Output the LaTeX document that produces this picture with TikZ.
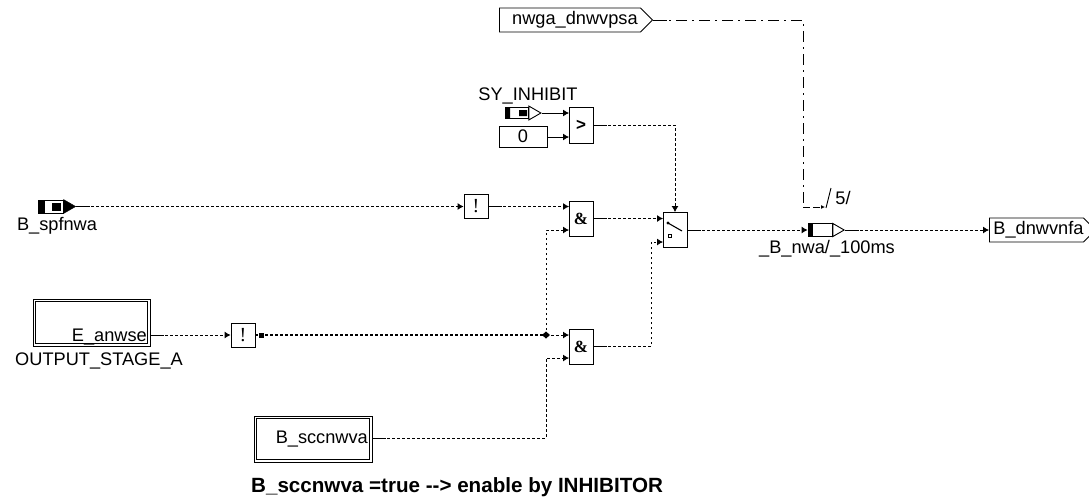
\documentclass[tikz,border=0pt]{standalone}
\usepackage{fontspec}
\setmainfont{Liberation Sans}
\newfontfamily\gatefont{Liberation Serif}
\usepackage{tikz}
\usetikzlibrary{arrows.meta,positioning,shapes.geometric,shapes.symbols,calc}

\begin{document}
\begin{tikzpicture}[
  x=1pt, y=-1pt,
  box/.style={draw, line width=0.9pt, inner sep=0pt, minimum width=24pt, font=\bfseries\gatefont\fontsize{17}{17}\selectfont},
  gate/.style={box, minimum height=35pt},
  notbox/.style={box, minimum height=24pt, font=\gatefont\fontsize{20}{20}\selectfont},
  module/.style={draw, line width=0.9pt, inner sep=0pt},
  port/.style={shape=signal, signal to=east, signal pointer angle=90, draw, line width=0.9pt, inner sep=0pt, font=\fontsize{18.2}{19}\selectfont},
  label/.style={font=\fontsize{18.2}{19}\selectfont, inner sep=0pt},
  wire/.style={-{Latex[length=6pt,width=7pt]}, line width=0.9pt, dash pattern=on 2.5pt off 2.5pt},
  stub/.style={line width=0.9pt},
  chain/.style={line width=0.9pt, dash pattern=on 11pt off 5pt on 2pt off 5pt}
]
\useasboundingbox (0,0) rectangle (1089,499);

% inputs
\node[port, minimum width=153pt, minimum height=24pt, anchor=west] (nwga) at (499,20) {\hspace*{10pt}nwga\_dnwvpsa};
\node[label] (syl) at (528,96) {SY\_INHIBIT};
\node[draw, line width=0.9pt, minimum width=48pt, minimum height=21pt, inner sep=0pt, font=\fontsize{18.2}{19}\selectfont] (zero) at (523,136.5) {0};
\node[module, minimum width=117pt, minimum height=47pt] (stage) at (91.5,322.5) {};
\node[module, minimum width=112pt, minimum height=42pt] (stagein) at (91.5,322.5) {};
\node[label, anchor=east] (anwse) at (147,337) {E\_anwse};
\node[label] (stagel) at (99,361) {OUTPUT\_STAGE\_A};
\node[module, minimum width=118pt, minimum height=46pt] (scc) at (313,439) {};
\node[module, minimum width=113pt, minimum height=41pt] (sccin) at (313,439) {};
\node[label, anchor=east] (sccl) at (368,439) {B\_sccnwva};
\node[label] (spfl) at (57,226) {B\_spfnwa};
\node[label] (nwal) at (827,249) {\_B\_nwa/\_100ms};
\node[label, font=\bfseries\fontsize{20.6}{21}\selectfont, anchor=west] (note) at (251,487) {B\_sccnwva =true -{}-> enable by INHIBITOR};

% small bool ports
\node[draw, fill=white, line width=0.9pt, minimum width=23pt, minimum height=11pt, inner sep=0pt] (syp) at (516.5,113) {};
\node[isosceles triangle, isosceles triangle apex angle=60, draw, line width=0.9pt, minimum height=12pt, minimum width=11pt, inner sep=0pt, anchor=west] (sypt) at (syp.east) {};
\fill (505,107.5) rectangle (510,118.5) (519,110) rectangle (527,116);

\node[draw, line width=0.9pt, minimum width=25pt, minimum height=13pt, inner sep=0pt] (spf) at (50.5,206.5) {};
\node[isosceles triangle, isosceles triangle apex angle=60, draw, fill=black, minimum height=12pt, minimum width=13pt, inner sep=0pt, anchor=west] (spft) at (spf.east) {};
\fill (38,200) rectangle (45,213);
\draw[line width=0.8pt, fill=black] (52,203) rectangle (60,210);

\node[draw, line width=0.9pt, minimum width=24pt, minimum height=13pt, inner sep=0pt] (nwa) at (820,230) {};
\node[isosceles triangle, isosceles triangle apex angle=60, draw, line width=0.9pt, minimum height=11pt, minimum width=13pt, inner sep=0pt, anchor=west] (nwat) at (nwa.east) {};
\fill (808,223.5) rectangle (813,236.5);

% blocks
\node[box, minimum height=36pt, font=\bfseries\fontsize{17}{17}\selectfont] (cmp) at (581,125) {>};
\node[notbox] (nota) at (476,206.5) {!};
\node[notbox] (notb) at (243,335) {!};
\node[gate] (anda) at (581,218.5) {\&};
\node[gate] (andb) at (581,346.5) {\&};
\node[gate] (sw) at (675,230) {};
\draw[line width=1.1pt] (668,223) -- (682,231);
\fill (668,223) circle (1.6pt);
\draw[line width=0.6pt] (668,234) rectangle (671,237);

% output
\node[port, minimum width=105pt, minimum height=24pt, anchor=west] (out) at (989,230) {\hspace*{4pt}B\_dnwvnfa};

% pins
\coordinate (cmpa) at (569,113);
\coordinate (cmpb) at (569,137);
\coordinate (anda1) at (569,206.5);
\coordinate (anda2) at (569,230);
\coordinate (andb1) at (569,335);
\coordinate (andb2) at (569,358);
\coordinate (swa) at (663,218.5);
\coordinate (swb) at (663,242);
\coordinate (join) at (546,335);
\coordinate (bus) at (803,207);
\coordinate (busend) at (825,207);

% connectors
\draw[stub, -{Latex[length=6pt,width=7pt]}] (sypt.apex) -- (cmpa);
\draw[stub, -{Latex[length=6pt,width=7pt]}] (zero.east |- cmpb) -- (cmpb);
\draw[wire] (spft.apex) -- (nota.west);
\draw[wire] (nota.east) -- (anda1);
\draw[wire] (stage.east |- notb) -- (notb.west);
\draw[wire, line width=1.3pt, -] (notb.east) -- (join);
\draw[wire] (join) -- (andb1);
\draw[wire] (join) |- (anda2);
\draw[wire] (scc.east |- 0,438) -| ($(andb2)+(-23,0)$) -- (andb2);
\draw[wire] (anda.east) -- (swa);
\draw[wire] (andb.east) -| ($(swb)+(-12,0)$) -- (swb);
\draw[wire] (cmp.east) -| (sw.north);
\draw[wire] (sw.east) -- (nwa.west);
\draw[wire] (nwat.apex) -- (out.west);
\draw[chain] (nwga.east) -| (bus);
\draw[-{Latex[length=4pt,width=4pt]}, line width=0.9pt, dash pattern=on 7pt off 3pt] (bus) -- (busend);

% solid starts of the lines
\foreach \s in {spft.apex,nota.east,anda.east,andb.east,cmp.east,sw.east,nwat.apex,nwga.east}
  \draw[stub] (\s) -- ++(14,0);
\draw[stub] (stage.east |- notb) -- ++(14,0);
\draw[stub] (scc.east |- 0,438) -- ++(14,0);
\fill (259,333) rectangle (264,338);
\fill (546,331.5) -- (550,335) -- (546,338.5) -- (542,335) -- cycle;

% bus width mark
\draw[line width=0.9pt] (826,208) -- (831,188);
\node[label] (width) at (843,198) {5/};
\end{tikzpicture}
\end{document}
